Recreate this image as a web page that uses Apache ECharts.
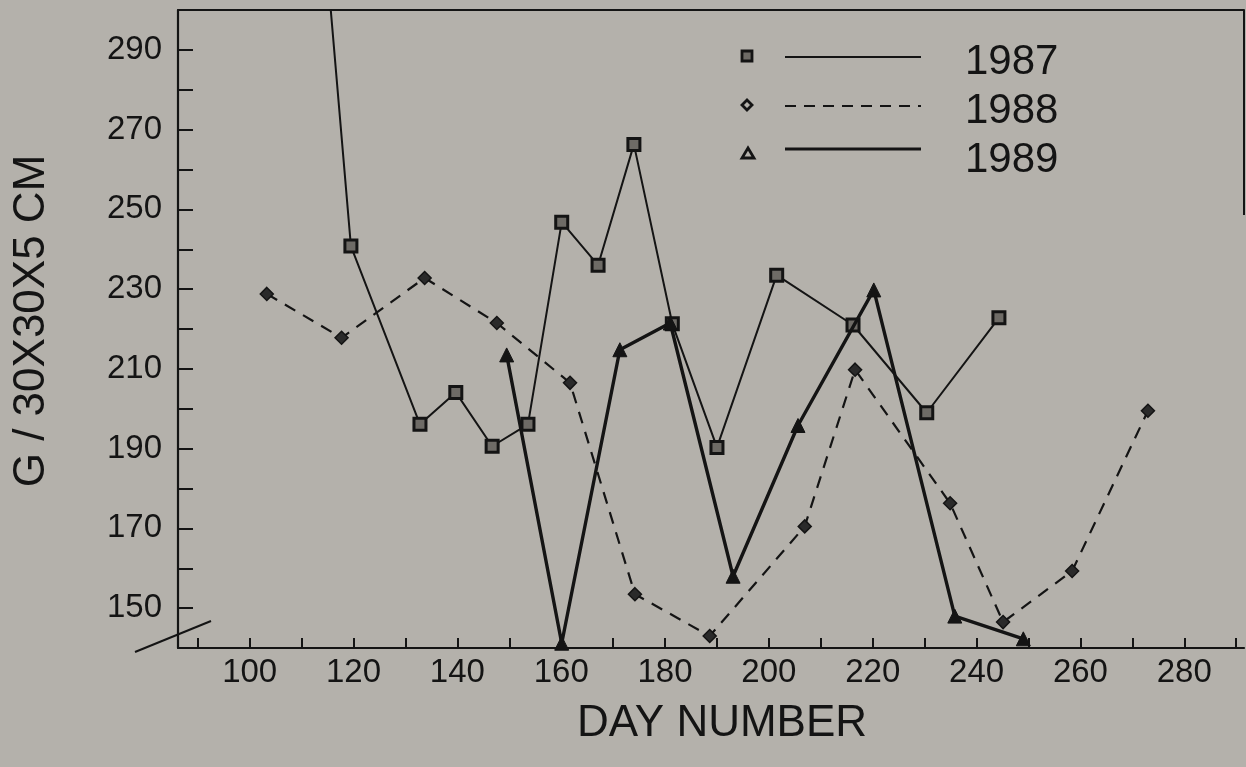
<!DOCTYPE html>
<html>
<head>
<meta charset="utf-8">
<script src="https://cdn.jsdelivr.net/npm/echarts@6/dist/echarts.min.js"></script>
<style>
html,body{margin:0;padding:0;background:#b4b1ab;}
#c{width:1246px;height:767px;}
</style>
</head>
<body>
<div id="c"></div>
<script>
// ---- data ----
const seriesNames = ['1987', '1988', '1989'];
const data1987 = [[113, 340], [119.5, 240.8], [132.8, 196.1], [139.7, 204.1], [146.7, 190.6], [153.6, 196.1], [160.1, 246.8], [167.1, 236.0], [174.0, 266.3], [181.4, 221.3], [190.0, 190.3], [201.5, 233.5], [216.2, 221.0], [230.4, 199.0], [244.3, 222.8]];
const data1988 = [[103.3, 228.8], [117.7, 217.8], [133.7, 232.8], [147.6, 221.5], [161.7, 206.5], [174.2, 153.5], [188.6, 143.0], [206.9, 170.5], [216.6, 209.8], [234.9, 176.3], [245.1, 146.5], [258.4, 159.3], [273.0, 199.5]];
const data1989 = [[149.5, 213.5], [160.1, 141.2], [171.3, 214.8], [181.0, 221.5], [193.1, 158.0], [205.6, 195.8], [220.2, 229.8], [235.8, 148.0], [249.0, 142.3]];
const xTickValues = [90, 100, 110, 120, 130, 140, 150, 160, 170, 180, 190, 200, 210, 220, 230, 240, 250, 260, 270, 280, 290];
const xLabelValues = [100, 120, 140, 160, 180, 200, 220, 240, 260, 280];
const yLabelValues = [150, 170, 190, 210, 230, 250, 270, 290];
const xTitle = 'DAY NUMBER';
const yTitle = 'G / 30X30X5 CM';

const INK = '#141414';
const BG = '#b4b1ab';
const MARKFILL = '#6e6b66';
const FONT = "'Liberation Sans', Arial, Helvetica, sans-serif";

const chart = echarts.init(document.getElementById('c'));
const legendX = 747, legendY0 = 56, legendDy = 49;
const legendStyles = [
  {dash: null, w: 2},
  {dash: [11, 8], w: 2},
  {dash: null, w: 3.2}
];
const legendGraphics = [];
seriesNames.forEach((nm, i) => {
  const y = legendY0 + i * legendDy;
  let shapeEl;
  if (i === 0) {
    shapeEl = {type: 'rect', shape: {x: legendX - 5, y: y - 5, width: 10, height: 10}, style: {fill: MARKFILL, stroke: INK, lineWidth: 2.8}};
  } else if (i === 1) {
    shapeEl = {type: 'polygon', shape: {points: [[legendX, y - 5], [legendX + 5, y], [legendX, y + 5], [legendX - 5, y]]}, style: {fill: '#b4b1ab', stroke: INK, lineWidth: 2.8}};
  } else {
    shapeEl = {type: 'polygon', shape: {points: [[legendX + 1, y - 6], [legendX + 7, y + 4], [legendX - 5, y + 4]]}, style: {fill: '#b4b1ab', stroke: INK, lineWidth: 2.8}};
  }
  legendGraphics.push(shapeEl);
  legendGraphics.push({type: 'line', shape: {x1: 785, y1: y + (i === 2 ? -5 : 1), x2: 921, y2: y + (i === 2 ? -5 : 1)}, style: {stroke: INK, lineWidth: legendStyles[i].w, lineDash: legendStyles[i].dash}});
  legendGraphics.push({type: 'text', x: 965, y: y + 6, style: {text: nm, fill: INK, font: '42px ' + FONT, textAlign: 'left', textVerticalAlign: 'middle'}});
});

const option = {
  backgroundColor: BG,
  animation: false,
  grid: {left: 178, right: 2, top: 10, bottom: 119, containLabel: false},
  xAxis: [{
    type: 'value', min: 86.2, max: 291.5,
    name: xTitle, nameLocation: 'middle', nameGap: 54,
    nameTextStyle: {fontSize: 44, color: INK, fontFamily: FONT, padding: [0, 0, 0, 22]},
    axisLine: {show: true, onZero: false, lineStyle: {color: INK, width: 2.2}},
    axisTick: {show: true, inside: true, length: 10, customValues: xTickValues, lineStyle: {color: INK, width: 2}},
    axisLabel: {show: true, customValues: xLabelValues, fontSize: 33, color: INK, fontFamily: FONT, margin: 8},
    splitLine: {show: false}
  }, {
    type: 'value', position: 'top', min: 86.2, max: 291.5,
    axisLine: {show: true, onZero: false, lineStyle: {color: INK, width: 2}},
    axisTick: {show: false}, axisLabel: {show: false}, splitLine: {show: false}
  }],
  yAxis: {
    type: 'value', min: 140, max: 300, interval: 10,
    name: yTitle, nameLocation: 'middle', nameGap: 124,
    nameTextStyle: {fontSize: 44, color: INK, fontFamily: FONT, padding: [0, 0, 0, 16]},
    axisLine: {show: true, onZero: false, lineStyle: {color: INK, width: 2.2}},
    axisTick: {show: true, inside: true, length: 15, lineStyle: {color: INK, width: 2}},
    axisLabel: {
      show: true, fontSize: 33, color: INK, fontFamily: FONT, margin: 16,
      formatter: v => (yLabelValues.indexOf(v) >= 0 ? String(v) : '')
    },
    splitLine: {show: false}
  },
  series: [{
    name: seriesNames[0], type: 'line', data: data1987,
    symbol: 'rect', symbolSize: 12, showAllSymbol: true,
    lineStyle: {color: INK, width: 2},
    itemStyle: {color: MARKFILL, borderColor: INK, borderWidth: 3},
    z: 3
  }, {
    name: seriesNames[1], type: 'line', data: data1988,
    symbol: 'diamond', symbolSize: 13, showAllSymbol: true,
    lineStyle: {color: INK, width: 2.2, type: [12, 9]},
    itemStyle: {color: '#2a2a2a', borderColor: INK, borderWidth: 1.5},
    z: 3
  }, {
    name: seriesNames[2], type: 'line', data: data1989,
    symbol: 'triangle', symbolSize: 14, showAllSymbol: true,
    lineStyle: {color: INK, width: 3.4},
    itemStyle: {color: INK, borderColor: INK, borderWidth: 1},
    z: 4
  }],
  graphic: legendGraphics.concat([
    {type: 'line', shape: {x1: 135, y1: 652, x2: 211, y2: 621}, style: {stroke: INK, lineWidth: 2}},
    {type: 'line', shape: {x1: 1244, y1: 10, x2: 1244, y2: 215}, style: {stroke: INK, lineWidth: 2}}
  ])
};
chart.setOption(option);
</script>
</body>
</html>
